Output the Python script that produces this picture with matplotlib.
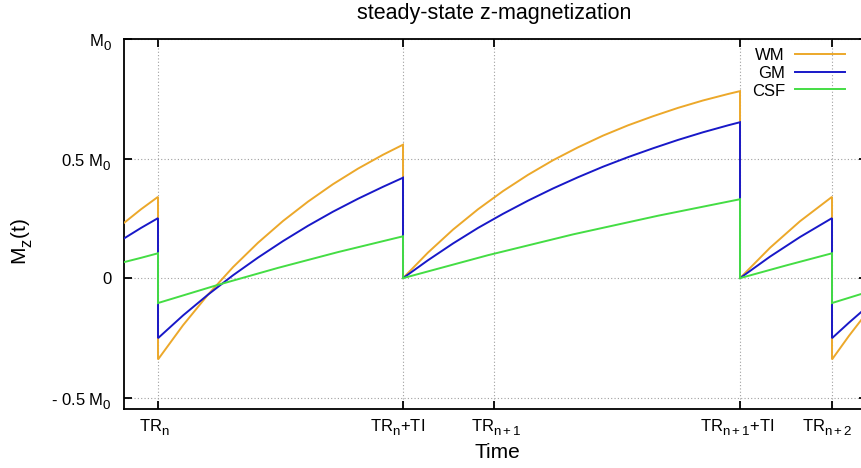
import matplotlib
matplotlib.use("Agg")
import matplotlib.pyplot as plt
from matplotlib.lines import Line2D
from matplotlib.transforms import ScaledTranslation

# gnuplot-like subscripts: larger and lowered a bit more
try:
    import matplotlib._mathtext as _mt
    _mt.SHRINK_FACTOR = 0.8
    _mt.FontConstantsBase.sub1 = 0.55
    _mt.FontConstantsBase.subdrop = 0.55
except Exception:
    pass

plt.rcParams['font.family'] = ['Liberation Sans', 'DejaVu Sans']
plt.rcParams['mathtext.fontset'] = 'custom'
plt.rcParams['mathtext.rm'] = 'Liberation Sans'
plt.rcParams['mathtext.it'] = 'Liberation Sans:italic'
plt.rcParams['mathtext.default'] = 'regular'

# ---------------- data (time in arbitrary units, TR_n = 0) ----------------
t_wm_gm = [-0.34, -0.17, 0.00,
           0.00, 0.25, 0.50, 0.75, 1.00, 1.25, 1.50, 1.75, 2.00, 2.25, 2.45,
           2.45, 2.70, 2.95, 3.20, 3.45, 3.70, 3.95, 4.20, 4.45, 4.70, 4.95, 5.20, 5.45, 5.70, 5.82,
           5.82, 6.12, 6.42, 6.74,
           6.74, 6.91, 7.08]

m_wm = [0.231, 0.288, 0.340,
        -0.340, -0.197, -0.069, 0.046, 0.148, 0.239, 0.320, 0.393, 0.458, 0.516, 0.558,
        0.000, 0.107, 0.203, 0.288, 0.364, 0.432, 0.493, 0.547, 0.596, 0.639, 0.677, 0.712, 0.743, 0.770, 0.782,
        0.000, 0.127, 0.238, 0.340,
        -0.340, -0.241, -0.149]

m_gm = [0.166, 0.210, 0.251,
        -0.251, -0.156, -0.069, 0.012, 0.086, 0.155, 0.219, 0.278, 0.332, 0.382, 0.420,
        0.000, 0.075, 0.145, 0.210, 0.269, 0.324, 0.375, 0.422, 0.466, 0.506, 0.543, 0.578, 0.610, 0.639, 0.652,
        0.000, 0.090, 0.172, 0.251,
        -0.251, -0.186, -0.124]

t_csf = [-0.34, -0.17, 0.00,
         0.00, 0.60, 1.20, 1.80, 2.45,
         2.45, 3.30, 4.15, 5.00, 5.82,
         5.82, 6.28, 6.74,
         6.74, 7.08]

m_csf = [0.067, 0.085, 0.104,
         -0.104, -0.028, 0.043, 0.109, 0.175,
         0.000, 0.096, 0.183, 0.261, 0.330,
         0.000, 0.053, 0.104,
         -0.104, -0.060]

series_names = ['WM', 'GM', 'CSF']
series_colors = ['#eca82a', '#1818c8', '#44dd44']

xtick_pos = [0.00, 2.45, 3.36, 5.82, 6.74]
xtick_labels = ['TR$_n$', 'TR$_n$+TI', 'TR$_{n+1}$', 'TR$_{n+1}$+TI', 'TR$_{n+2}$']
ytick_pos = [-0.5, 0.0, 0.5, 1.0]
ytick_labels = ['- 0.5 M$_0$', '0', '0.5 M$_0$', 'M$_0$']

# ---------------- figure ----------------
W, H = 861, 468
fig = plt.figure(figsize=(W / 100, H / 100), dpi=100)
ax_l, ax_r, ax_t, ax_b = 124.3, 867.0, 39.0, 408.5
ax = fig.add_axes([ax_l / W, (H - ax_b) / H, (ax_r - ax_l) / W, (ax_b - ax_t) / H])

ax.set_xlim(-0.337, 7.09)
ax.set_ylim(-0.545, 1.0)

for t, m, c in zip([t_wm_gm, t_wm_gm, t_csf], [m_wm, m_gm, m_csf], series_colors):
    ax.plot(t, m, color=c, lw=1.4, zorder=3, solid_joinstyle='miter')

ax.set_xticks(xtick_pos)
ax.set_xticklabels(xtick_labels, fontsize=12)
ax.set_yticks(ytick_pos)
ax.set_yticklabels(ytick_labels, fontsize=12)
ax.tick_params(direction='in', length=6, width=1.3, top=True, right=True, pad=6)
ax.tick_params(axis='y', pad=9)

# gnuplot centres enhanced-text labels slightly differently; nudge them (pixels)
label_shift_px = [-4, -5, 2, -3, -5]
for lab, dx in zip(ax.get_xticklabels(), label_shift_px):
    lab.set_transform(lab.get_transform() + ScaledTranslation(dx / 100, 0, fig.dpi_scale_trans))

ax.grid(True, color='#a0a0a0', linestyle=(0, (1, 2)), linewidth=0.8, zorder=1)
ax.set_axisbelow(True)
for sp in ax.spines.values():
    sp.set_linewidth(1.3)

# title and axis labels
fig.text(494 / W, 1 - 19 / H, 'steady-state z-magnetization', ha='center', va='baseline', fontsize=15.5)
fig.text(497 / W, 1 - 458 / H, 'Time', ha='center', va='baseline', fontsize=15)
fig.text(22 / W, 1 - 242 / H, 'M$_z$(t)', ha='center', va='center', rotation=90, fontsize=15)

# legend (text right-aligned, sample line to the right)
leg_base = [60, 78, 96]
leg_line = [53.5, 71.7, 89.0]
for name, c, yb, yl in zip(series_names, series_colors, leg_base, leg_line):
    fig.text(785 / W, 1 - yb / H, name, ha='right', va='baseline', fontsize=12)
    fig.add_artist(Line2D([795 / W, 845 / W], [1 - yl / H, 1 - yl / H],
                          transform=fig.transFigure, color=c, lw=1.4))

fig.savefig('out.png', dpi=100)
